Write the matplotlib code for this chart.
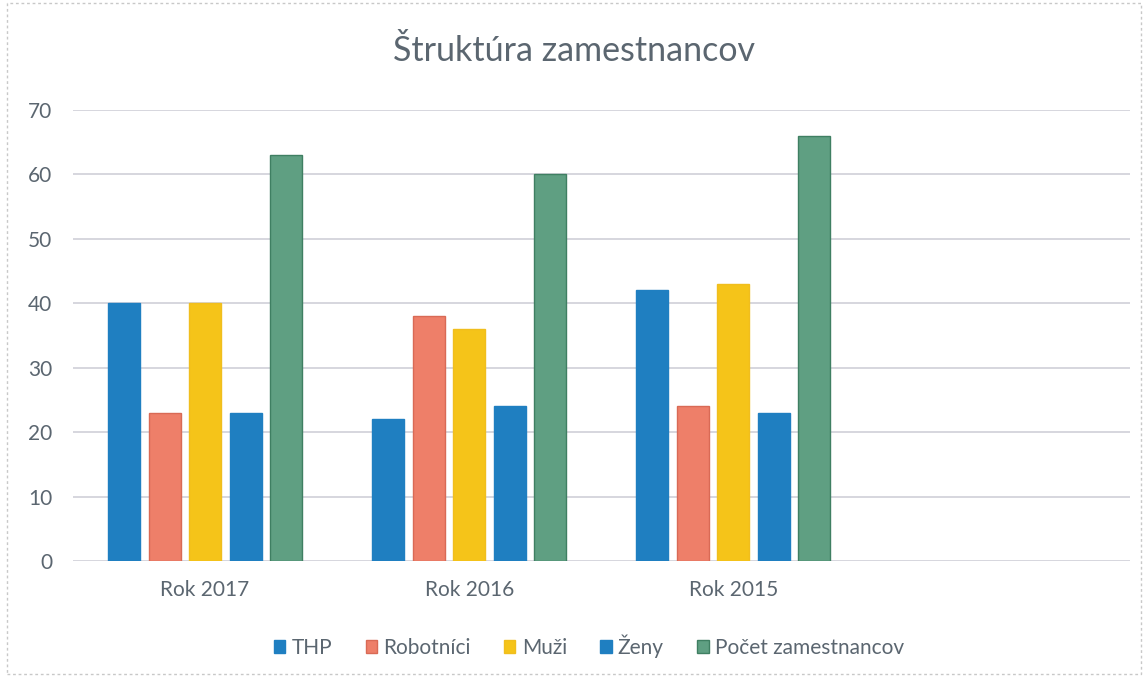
import matplotlib.pyplot as plt
import numpy as np

categories = ["Rok 2017", "Rok 2016", "Rok 2015", ""]
series = ["THP", "Robotníci", "Muži", "Ženy", "Počet zamestnancov"]
thp = [40, 22, 42, np.nan]
robotnici = [23, 38, 24, np.nan]
muzi = [40, 36, 43, np.nan]
zeny = [23, 24, 23, np.nan]
pocet = [63, 60, 66, np.nan]
yticks = [0, 10, 20, 30, 40, 50, 60, 70]

colors = ["#1f7fc1", "#ee7f69", "#f5c419", "#1f7fc1", "#5f9f82"]
edges = ["#1f7fc1", "#d96a55", "#f0be1e", "#1f7fc1", "#3f7f62"]
text_color = "#5b6670"

plt.rcParams['font.family'] = ['Lato', 'DejaVu Sans']

fig = plt.figure(figsize=(11.48, 6.77), dpi=100)
ax = fig.add_axes([0.0636, 0.1713, 0.9204, 0.6662])

x = np.arange(len(categories)) + 0.5
pitch = 0.1534
width = 0.121
values = [thp, robotnici, muzi, zeny, pocet]
for i, (name, vals) in enumerate(zip(series, values)):
    ax.bar(x + (i - 2) * pitch, vals, width, color=colors[i],
           edgecolor=edges[i], linewidth=1, label=name, zorder=3)

ax.set_xlim(0, len(categories))
ax.set_ylim(0, 70)
ax.set_yticks(yticks)
ax.set_xticks(x[:3])
ax.set_xticklabels(categories[:3])
ax.tick_params(length=0, labelsize=15, colors=text_color)
ax.tick_params(axis='y', pad=15)
ax.tick_params(axis='x', pad=14)
ax.grid(axis='y', color="#cfd0d8", linewidth=1.2, zorder=0)
for s in ax.spines.values():
    s.set_visible(False)

fig.suptitle("Štruktúra zamestnancov", y=0.948, fontsize=24.5, color=text_color)

leg = fig.legend(loc='center', bbox_to_anchor=(0.513, 0.046), ncol=5, frameon=False,
                 fontsize=15, handlelength=0.55, handleheight=0.55, handletextpad=0.3,
                 columnspacing=1.6)
for t in leg.get_texts():
    t.set_color(text_color)

fig.patches.append(plt.Rectangle((0.006, 0.004), 0.988, 0.992, transform=fig.transFigure,
                                 fill=False, edgecolor="#c8c8c8", linewidth=1, linestyle=(0, (2, 2))))

fig.savefig("out.png", dpi=100)
